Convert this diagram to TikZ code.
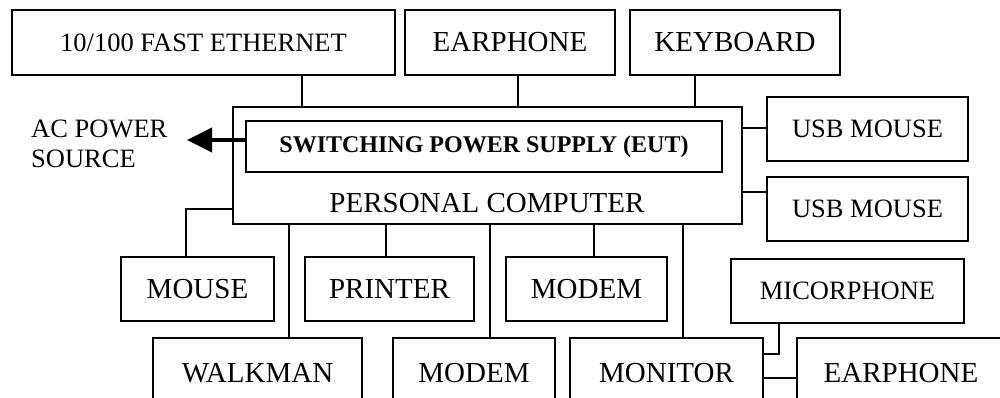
\documentclass[tikz,border=0pt]{standalone}
\usepackage{fontspec}
\setmainfont{Liberation Serif}
\usetikzlibrary{arrows.meta}
\begin{document}
\begin{tikzpicture}[x=1pt,y=-1pt,
  box/.style={draw,line width=1.6pt,inner sep=0pt,font=\fontsize{29}{32}\selectfont},
  smallbox/.style={box,font=\fontsize{26.5}{30}\selectfont},
  wire/.style={line width=1.3pt},
  lbl/.style={inner sep=0pt,font=\fontsize{26.5}{30}\selectfont}]
\useasboundingbox (0,0) rectangle (1000,398);
\clip (0,0) rectangle (1000,398);
% top row
\node[smallbox,minimum width=383pt,minimum height=65pt] (eth) at (203.5,42.5) {10/100 FAST ETHERNET};
\node[box,minimum width=210pt,minimum height=65pt] (ear1) at (510,42.5) {EARPHONE};
\node[box,minimum width=210pt,minimum height=65pt] (key) at (735,42.5) {KEYBOARD};
% PC
\node[draw,line width=1.6pt,inner sep=0pt,minimum width=509pt,minimum height=117pt] (pc) at (487.5,165.5) {};
\node[lbl,font=\fontsize{29}{32}\selectfont] (pct) at (487,203.5) {PERSONAL COMPUTER};
\node[draw,line width=1.6pt,inner sep=0pt,minimum width=476pt,minimum height=51pt,font=\bfseries\fontsize{24}{28}\selectfont] (sw) at (484,146.5) {SWITCHING POWER SUPPLY (EUT)};
% AC power
\node[lbl,anchor=west,align=left] (ac) at (31,144) {AC POWER\\SOURCE};
\coordinate (tip) at (187,140);
\draw[line width=4pt,-{Triangle[length=25pt,width=24pt]}] (sw.west |- tip) -- (tip);
% right
\node[smallbox,minimum width=201pt,minimum height=64pt] (usb1) at (867.5,129) {USB MOUSE};
\node[smallbox,minimum width=201pt,minimum height=64pt] (usb2) at (867.5,209) {USB MOUSE};
% bottom row 1
\node[box,minimum width=153pt,minimum height=64pt] (mouse) at (197.5,289) {MOUSE};
\node[box,minimum width=169pt,minimum height=64pt] (printer) at (389.5,289) {PRINTER};
\node[box,minimum width=161pt,minimum height=64pt] (modem1) at (586.5,289) {MODEM};
\node[smallbox,minimum width=233pt,minimum height=64pt] (mic) at (847.5,291) {MICORPHONE};
% bottom row 2
\node[box,minimum width=209pt,minimum height=70pt] (walk) at (257.5,373) {WALKMAN};
\node[box,minimum width=162pt,minimum height=70pt] (modem2) at (474,373) {MODEM};
\node[box,minimum width=193pt,minimum height=70pt] (mon) at (666.5,373) {MONITOR};
\node[box,minimum width=208pt,minimum height=70pt] (ear2) at (901,373) {EARPHONE};
% connector positions
\coordinate (xe) at (302,0);
\coordinate (xa) at (518,0);
\coordinate (xk) at (695,0);
\coordinate (yu1) at (0,128);
\coordinate (yu2) at (0,192);
\coordinate (mk) at (186,209);
\coordinate (xp) at (386,0);
\coordinate (xw) at (289,0);
\coordinate (xm1) at (594,0);
\coordinate (xm2) at (490,0);
\coordinate (xmon) at (683,0);
\coordinate (mick) at (779,354);
\coordinate (ye2) at (0,378);
% connectors
\draw[wire] (eth.south -| xe) -- (pc.north -| xe);
\draw[wire] (ear1.south -| xa) -- (pc.north -| xa);
\draw[wire] (key.south -| xk) -- (pc.north -| xk);
\draw[wire] (pc.east |- yu1) -- (usb1.west |- yu1);
\draw[wire] (pc.east |- yu2) -- (usb2.west |- yu2);
\draw[wire] (mouse.north -| mk) |- (pc.west |- mk);
\draw[wire] (pc.south -| xp) -- (printer.north -| xp);
\draw[wire] (pc.south -| xw) -- (walk.north -| xw);
\draw[wire] (pc.south -| xm1) -- (modem1.north -| xm1);
\draw[wire] (pc.south -| xm2) -- (modem2.north -| xm2);
\draw[wire] (pc.south -| xmon) -- (mon.north -| xmon);
\draw[wire] (mic.south -| mick) |- (mon.east |- mick);
\draw[wire] (mon.east |- ye2) -- (ear2.west |- ye2);
\end{tikzpicture}
\end{document}
